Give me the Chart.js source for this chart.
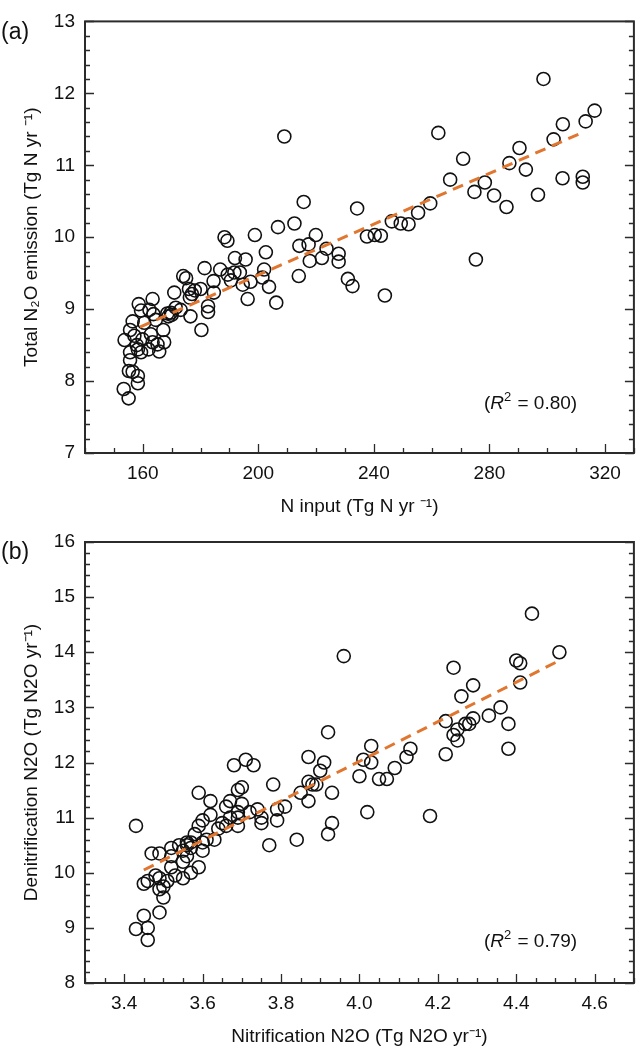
<!DOCTYPE html>
<html>
<head>
<meta charset="utf-8">
<script src="https://cdn.jsdelivr.net/npm/chart.js@4"></script>
<style>
  html, body { margin: 0; padding: 0; background: #fff; }
  #wrap { position: relative; width: 642px; height: 1049px; }
  canvas { position: absolute; left: 0; }
  #chartA { top: 0; }
  #chartB { top: 490px; }
</style>
</head>
<body>
<div id="wrap">
  <canvas id="chartA" width="642" height="530"></canvas>
  <canvas id="chartB" width="642" height="559"></canvas>
</div>
<script>
// (a) N input vs total N2O emission
const nInputA = [
  215.7, 234.2, 212.5, 206.8, 198.8, 188.3, 189.3, 219.9, 214.2, 217.4,
  223.6, 227.8, 227.8, 217.8, 222.0, 202.6, 191.9, 195.6, 181.4, 186.8,
  189.4, 191.7, 193.6, 202.0, 201.4, 190.5, 194.6, 197.3, 203.7, 214.0,
  231.0, 232.6, 184.5, 174.0, 175.0, 176.0, 178.0, 180.0, 177.0, 176.3,
  170.9, 184.6, 196.3, 206.2, 182.6, 182.6, 176.5, 180.3, 163.4, 158.6,
  159.4, 162.3, 163.7, 164.5, 168.5, 169.7, 168.9, 171.4, 173.1, 160.5,
  156.5, 155.6, 157.1, 153.7, 162.8, 167.1, 167.4, 165.1, 163.4, 165.7,
  162.0, 159.4, 157.9, 155.6, 155.6, 155.2, 156.5, 158.3, 158.3, 153.4,
  155.1, 170.0, 159.9, 158.3,
  298.7, 316.4, 313.3, 305.4, 302.2, 290.4, 262.3, 270.9, 286.9, 292.6,
  266.4, 305.3, 312.3, 312.3, 278.4, 274.8, 281.6, 296.8, 285.9, 259.5,
  255.3, 252.0, 249.3, 246.2, 242.4, 240.3, 237.6, 275.3, 243.8, 209.0
];
const emissionA = [
  10.49, 10.40, 10.19, 10.14, 10.03, 10.00, 9.95, 10.03, 9.88, 9.90,
  9.84, 9.77, 9.66, 9.67, 9.71, 9.79, 9.71, 9.69, 9.57, 9.55,
  9.48, 9.51, 9.51, 9.55, 9.44, 9.40, 9.34, 9.38, 9.31, 9.46,
  9.42, 9.32, 9.39, 9.46, 9.43, 9.28, 9.26, 9.28, 9.21, 9.16,
  9.23, 9.23, 9.14, 9.09, 9.04, 8.96, 8.90, 8.71, 9.14, 9.07,
  8.98, 8.99, 8.93, 8.85, 8.94, 8.95, 8.90, 9.02, 8.99, 8.81,
  8.83, 8.71, 8.63, 8.57, 8.65, 8.71, 8.54, 8.51, 8.54, 8.41,
  8.44, 8.40, 8.50, 8.40, 8.29, 8.14, 8.13, 8.07, 7.97, 7.89,
  7.76, 8.92, 8.58, 8.44,
  12.20, 11.76, 11.61, 11.57, 11.36, 11.24, 11.45, 11.09, 11.03, 10.94,
  10.80, 10.82, 10.84, 10.76, 10.76, 10.63, 10.58, 10.59, 10.42, 10.47,
  10.34, 10.18, 10.19, 10.22, 10.02, 10.03, 10.01, 9.69, 9.19, 11.40
];
const trendAx = [159, 313];
const trendAy = [8.75, 11.47];
const xTicksA = [160, 200, 240, 280, 320];
const yTicksA = [7, 8, 9, 10, 11, 12, 13];

// (b) nitrification vs denitrification N2O
const nitrB = [
  3.43, 3.45, 3.46, 3.47, 3.49, 3.48, 3.49, 3.49, 3.50, 3.50, 3.49,
  3.43, 3.45, 3.46, 3.46,
  3.52, 3.52, 3.52, 3.53, 3.51,
  3.54, 3.55, 3.55, 3.56, 3.56, 3.57, 3.57, 3.56, 3.55, 3.57,
  3.58, 3.59, 3.59, 3.60, 3.60, 3.60, 3.59, 3.61,
  3.62, 3.62, 3.63, 3.64,
  3.65, 3.66, 3.67, 3.67, 3.66,
  3.68, 3.69, 3.69, 3.70, 3.70, 3.69, 3.69,
  3.71, 3.72, 3.73, 3.74, 3.75, 3.75,
  3.77, 3.78, 3.79, 3.79, 3.81,
  3.84, 3.85, 3.87, 3.87, 3.88, 3.87, 3.89, 3.90, 3.91, 3.92, 3.93, 3.92, 3.93,
  3.96,
  4.00, 4.01, 4.02, 4.03, 4.03, 4.05, 4.07, 4.09, 4.12, 4.13,
  4.18,
  4.22, 4.22, 4.24, 4.24, 4.25, 4.25, 4.26, 4.27, 4.28, 4.29, 4.29,
  4.33, 4.36, 4.38, 4.38,
  4.40, 4.41, 4.41,
  4.44, 4.51
];
const denitB = [
  10.85, 9.80, 9.85, 10.35, 10.35, 9.95, 9.90, 9.70, 9.75, 9.55, 9.28,
  8.98, 9.22, 9.00, 8.78,
  10.10, 10.30, 10.45, 9.95, 9.85,
  10.50, 10.40, 10.20, 10.55, 10.50, 10.55, 10.45, 10.30, 9.90, 10.00,
  10.70, 10.85, 11.45, 10.95, 10.55, 10.40, 10.10, 10.60,
  11.05, 11.30, 10.60, 10.80,
  10.90, 11.20, 11.30, 11.00, 10.85,
  11.95, 11.50, 11.10, 11.25, 11.55, 11.00, 10.85,
  12.05, 11.10, 11.95, 11.15, 11.00, 10.90,
  10.50, 11.60, 11.15, 10.95, 11.20,
  10.60, 11.45, 12.10, 11.65, 11.60, 11.30, 11.60, 11.85, 12.00, 12.55, 11.45, 10.70, 10.90,
  13.93,
  11.75, 12.05, 11.10, 12.30, 12.00, 11.70, 11.70, 11.90, 12.10, 12.25,
  11.03,
  12.75, 12.15, 13.72, 12.50, 12.40, 12.60, 13.20, 12.70, 12.70, 13.40, 12.80,
  12.85, 13.00, 12.70, 12.25,
  13.85, 13.80, 13.45,
  14.70, 14.00
];
const trendBx = [3.45, 4.51];
const trendBy = [10.05, 13.85];
const xTicksB = [3.4, 3.6, 3.8, 4.0, 4.2, 4.4, 4.6];
const yTicksB = [8, 9, 10, 11, 12, 13, 14, 15, 16];

const FONT = "'Liberation Sans', Arial, sans-serif";
const lineColor = "#e0762f";

function toPoints(xs, ys) {
  return xs.map((x, i) => ({ x: x, y: ys[i] }));
}

// 枠線と内向きの目盛り
const frameTicks = {
  id: "frameTicks",
  afterDraw(chart, args, opts) {
    const { ctx, chartArea: a, scales } = chart;
    const xs = scales.x, ys = scales.y;
    ctx.save();
    ctx.strokeStyle = "#2b2b2b";
    ctx.lineWidth = 1.3;
    const nx = Math.round((xs.max - xs.min) / opts.xStep);
    for (let k = 0; k <= nx; k++) {
      const v = xs.min + k * opts.xStep;
      const major = opts.xMajor.some((m) => Math.abs(m - v) < 1e-6);
      const px = Math.round(xs.getPixelForValue(v)) + 0.5;
      const len = major ? 9 : 5;
      ctx.beginPath();
      ctx.moveTo(px, a.bottom);
      ctx.lineTo(px, a.bottom - len);
      ctx.stroke();
    }
    const ny = Math.round((ys.max - ys.min) / opts.yStep);
    for (let k = 0; k <= ny; k++) {
      const v = ys.min + k * opts.yStep;
      const major = opts.yMajor.some((m) => Math.abs(m - v) < 1e-6);
      const py = Math.round(ys.getPixelForValue(v)) + 0.5;
      const len = major ? 9 : 5;
      ctx.beginPath();
      ctx.moveTo(a.left, py);
      ctx.lineTo(a.left + len, py);
      ctx.moveTo(a.right, py);
      ctx.lineTo(a.right - len, py);
      ctx.stroke();
    }
    ctx.lineWidth = 2;
    ctx.strokeRect(a.left, a.top, a.right - a.left, a.bottom - a.top);

    // パネル記号
    ctx.fillStyle = "#111";
    ctx.font = "23px " + FONT;
    ctx.textBaseline = "middle";
    ctx.textAlign = "left";
    ctx.fillText(opts.panel, 1, a.top + 11);

    // R2 注記
    const size = 19;
    let x = a.right - 150;
    const y = a.bottom - opts.r2Off;
    const parts = [
      { t: "(", f: size + "px " + FONT, dy: 0 },
      { t: "R", f: "italic " + size + "px " + FONT, dy: 0 },
      { t: "2", f: "13px " + FONT, dy: -7 },
      { t: " = " + opts.r2 + ")", f: size + "px " + FONT, dy: 0 },
    ];
    parts.forEach((p) => {
      ctx.font = p.f;
      ctx.fillText(p.t, x, y + p.dy);
      x += ctx.measureText(p.t).width + (p.t === "2" ? 1 : 0);
    });
    ctx.restore();
  },
};

function makeChart(id, cfg) {
  return new Chart(document.getElementById(id), {
    type: "scatter",
    data: {
      datasets: [
        {
          data: cfg.points,
          pointRadius: 6.5,
          pointHoverRadius: 6.5,
          borderColor: "#111",
          borderWidth: 1.6,
          backgroundColor: "rgba(0,0,0,0)",
          order: 2,
        },
        {
          type: "line",
          data: cfg.trend,
          showLine: true,
          borderColor: lineColor,
          borderWidth: 3,
          borderDash: [11, 7],
          pointRadius: 0,
          fill: false,
          order: 1,
        },
      ],
    },
    options: {
      responsive: false,
      animation: false,
      layout: { padding: cfg.padding },
      plugins: {
        legend: { display: false },
        tooltip: { enabled: false },
        frameTicks: cfg.frame,
      },
      scales: {
        x: {
          type: "linear",
          min: cfg.xMin,
          max: cfg.xMax,
          grid: { display: false, drawTicks: false },
          border: { display: false },
          afterBuildTicks: (s) => { s.ticks = cfg.xTicks.map((v) => ({ value: v })); },
          afterFit: (s) => { s.height = cfg.xHeight; },
          ticks: {
            padding: 9,
            color: "#111",
            font: { family: FONT, size: 19 },
            callback: cfg.xFmt,
            maxRotation: 0,
          },
          title: {
            display: true,
            text: cfg.xTitle,
            color: "#111",
            font: { family: FONT, size: 19 },
            padding: { top: 0, bottom: cfg.xTitlePad },
          },
        },
        y: {
          type: "linear",
          min: cfg.yMin,
          max: cfg.yMax,
          grid: { display: false, drawTicks: false },
          border: { display: false },
          afterBuildTicks: (s) => { s.ticks = cfg.yTicks.map((v) => ({ value: v })); },
          afterFit: (s) => { s.width = 85; },
          ticks: {
            padding: 10,
            color: "#111",
            font: { family: FONT, size: 19 },
          },
          title: {
            display: true,
            text: cfg.yTitle,
            color: "#111",
            font: { family: FONT, size: 19 },
            padding: { top: 20, bottom: 0 },
          },
        },
      },
    },
    plugins: [frameTicks],
  });
}

makeChart("chartA", {
  points: toPoints(nInputA, emissionA),
  trend: toPoints(trendAx, trendAy),
  padding: { top: 11, right: 2, left: 0, bottom: 0 },
  xMin: 140, xMax: 330, yMin: 7, yMax: 13,
  xTicks: xTicksA, yTicks: yTicksA,
  xFmt: (v) => String(v),
  xHeight: 77, xTitlePad: 12,
  xTitle: "N input (Tg N yr \u207B\u00B9)",
  yTitle: "Total N\u2082O emission (Tg N yr \u207B\u00B9)",
  frame: { xStep: 10, yStep: 0.2, xMajor: xTicksA, yMajor: yTicksA, panel: "(a)", r2: "0.80", r2Off: 49 },
});

makeChart("chartB", {
  points: toPoints(nitrB, denitB),
  trend: toPoints(trendBx, trendBy),
  padding: { top: 52, right: 2, left: 0, bottom: 0 },
  xMin: 3.3, xMax: 4.7, yMin: 8, yMax: 16,
  xTicks: xTicksB, yTicks: yTicksB,
  xFmt: (v) => v.toFixed(1),
  xHeight: 66, xTitlePad: 1,
  xTitle: "Nitrification N2O (Tg N2O yr\u207B\u00B9)",
  yTitle: "Denitrification N2O (Tg N2O yr\u207B\u00B9)",
  frame: { xStep: 0.05, yStep: 0.2, xMajor: xTicksB, yMajor: yTicksB, panel: "(b)", r2: "0.79", r2Off: 41 },
});
</script>
</body>
</html>
